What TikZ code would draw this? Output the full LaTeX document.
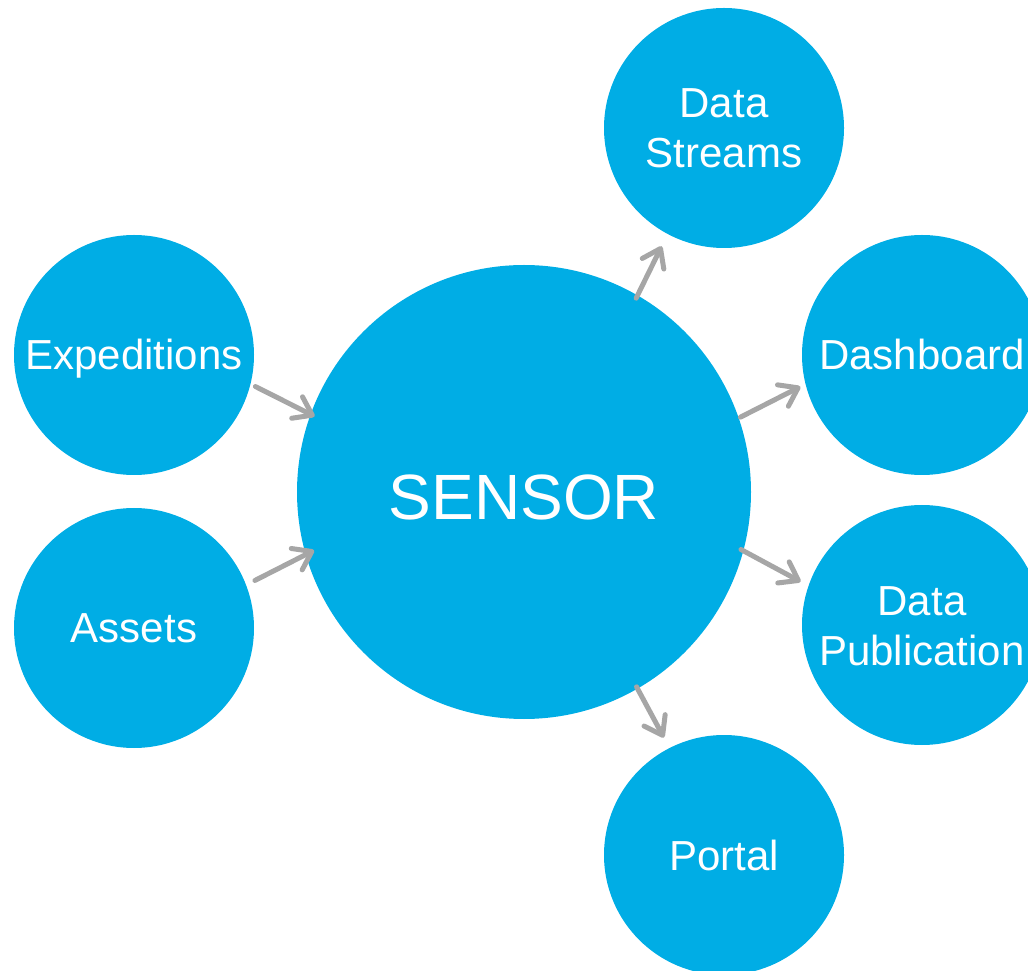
\documentclass[tikz,border=0pt]{standalone}
\usepackage{fontspec}
\setmainfont{Liberation Sans}
\usetikzlibrary{arrows.meta}
\definecolor{bubble}{RGB}{0,173,229}
\definecolor{linkgray}{RGB}{166,166,166}
% fixed line struts so every label sits on the same baseline grid
\newcommand\bstrut{\vrule height 38pt depth 8pt width 0pt}
\newcommand\hstrut{\vrule height 64pt depth 8pt width 0pt}
\tikzset{
  bubble/.style={circle, fill=bubble, draw=none, inner sep=0pt, outer sep=0pt,
    minimum size=240pt, text=white, align=center,
    font=\fontsize{42}{50}\selectfont},
  hub/.style={bubble, minimum size=454pt, font=\fontsize{64}{72}\selectfont},
  link/.style={draw=linkgray, line width=5pt, line cap=round,
    -{Straight Barb[length=17pt,width=24pt,round]}},
}
\begin{document}
\begin{tikzpicture}[x=1pt,y=1pt]
  \useasboundingbox (0,0) rectangle (1028,970);
  \clip (0,0) rectangle (1028,970);

  % central hub and the surrounding bubbles
  \node[hub]    (sensor)  at (524,478) {\hstrut SENSOR};
  \node[bubble] (exp)     at (134,615) {\bstrut Expeditions};
  \node[bubble] (assets)  at (134,342) {\bstrut Assets};
  \node[bubble] (streams) at (724,842) {\bstrut Data\\\bstrut Streams};
  \node[bubble] (dash)    at (922,615) {\bstrut Dashboard};
  \node[bubble] (pub)     at (922,345) {\bstrut Data\\\bstrut Publication};
  \node[bubble] (portal)  at (724,115) {\bstrut Portal};

  % inputs into the hub
  \draw[link, shorten <=5.6pt, shorten >=-4.3pt] (exp.-14) -- (sensor.160);
  \draw[link, shorten <=10pt, shorten >=-9.3pt] (assets.21) -- (sensor.196);

  % outputs from the hub
  \draw[link, shorten <=-3.1pt, shorten >=13.7pt] (sensor.60.6) -- (streams.242.9);
  \draw[link, shorten <=2pt, shorten >=5.9pt] (sensor.19.6) -- (dash.194.3);
  \draw[link, shorten <=-2.6pt, shorten >=9pt] (sensor.-15.8) -- (pub.161);
  \draw[link, shorten <=-2pt, shorten >=12pt] (sensor.-60.5) -- (portal.117.5);
\end{tikzpicture}
\end{document}
